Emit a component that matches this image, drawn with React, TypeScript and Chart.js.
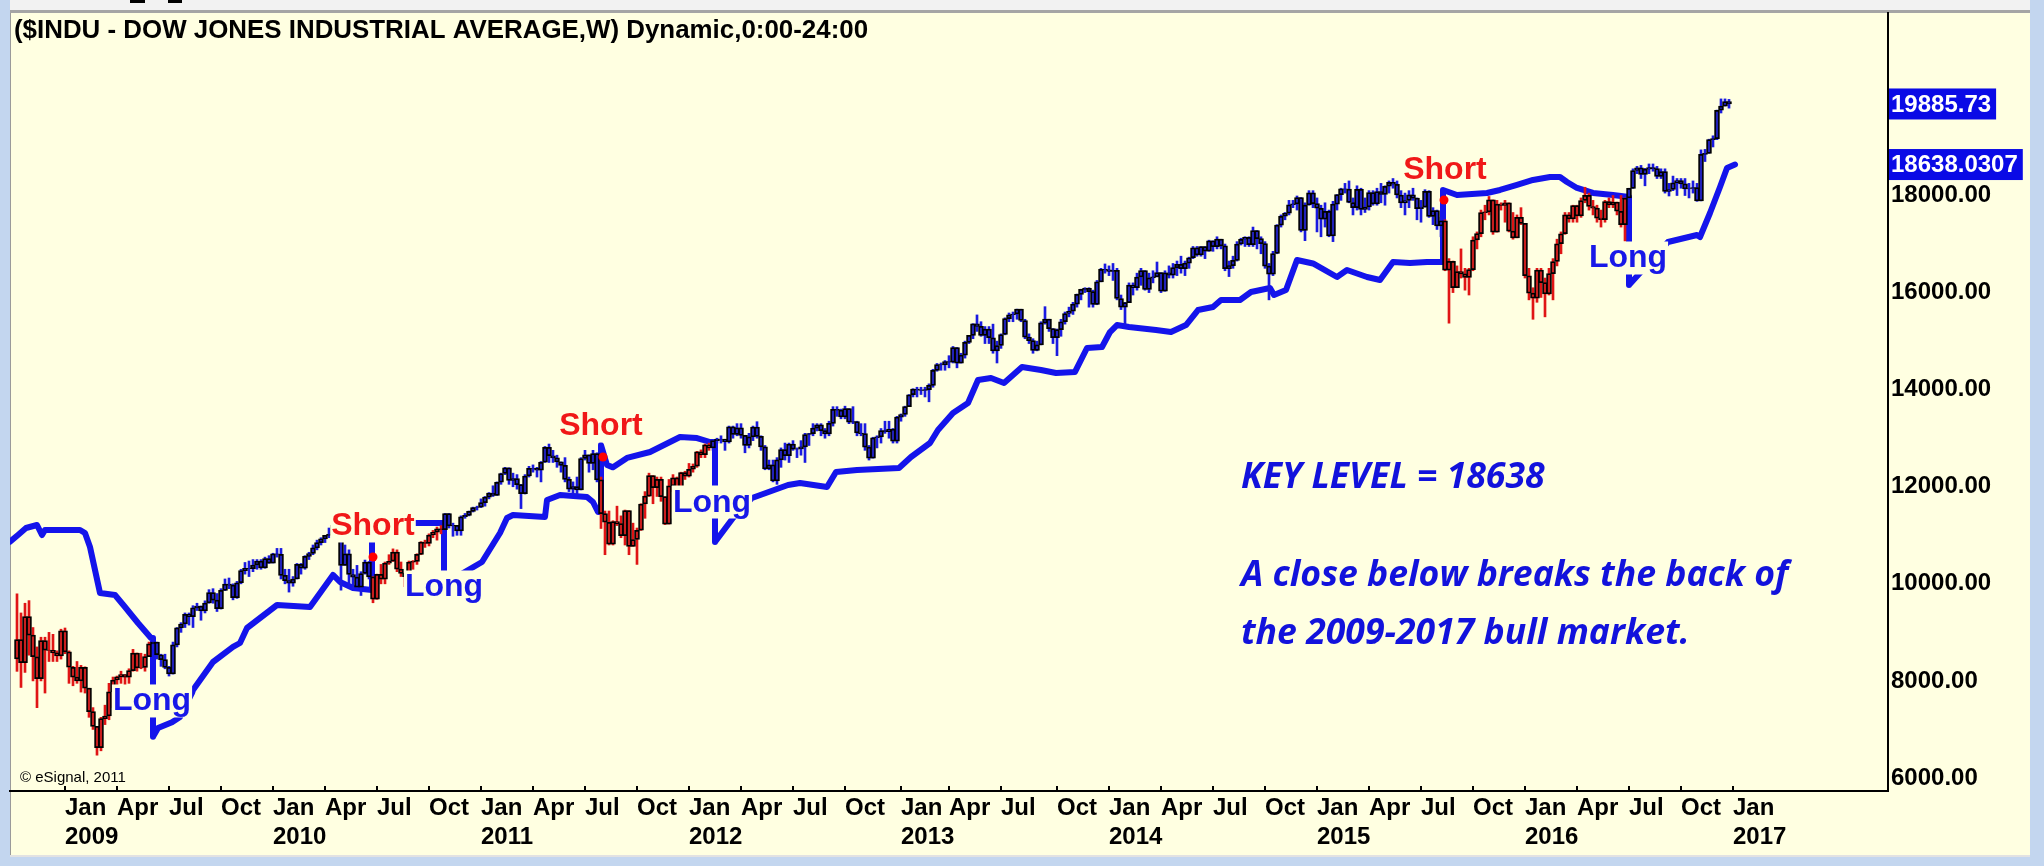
import React, { useEffect, useRef } from "react";
import { Chart, registerables } from "chart.js";

Chart.register(...registerables);

// ---------- DATA (weekly bars, first bar = week ending Fri 17 Oct 2008) ----------
const FIRST_OPEN = 8451;

const close2008 = [8852, 8378, 9325, 8943, 8497, 8046, 8829, 8635, 8629, 8579, 8515];
const high2008 = [9794, 9400, 9600, 9654, 9100, 8700, 8900, 8900, 9000, 8960, 8620];
const low2008 = [8197, 7865, 8175, 8530, 8000, 7449, 8000, 7750, 8400, 8400, 8400];

const close2009 = [9034, 8599, 8281, 8077, 8000, 8280, 7850, 7366, 7063, 6627, 7224, 7278, 7776, 8018, 8084, 8131, 8076, 8212, 8575, 8268, 8277, 8500, 8764, 8799, 8539, 8438, 8280, 8146, 8743, 9093, 9172, 9370, 9321, 9505, 9544, 9441, 9605, 9820, 9665, 9488, 9865, 9996, 9972, 9713, 10023, 10271, 10319, 10310, 10388, 10471, 10329, 10520, 10428];
const high2009 = [9065, 9090, 8620, 8300, 8400, 8320, 8290, 7850, 7450, 7050, 7250, 7500, 7950, 8080, 8100, 8200, 8100, 8250, 8650, 8550, 8570, 8550, 8800, 8880, 8800, 8550, 8550, 8300, 8800, 9100, 9200, 9400, 9400, 9550, 9600, 9500, 9650, 9880, 9900, 9800, 9900, 10100, 10120, 10000, 10050, 10300, 10440, 10470, 10500, 10500, 10500, 10550, 10580];
const low2009 = [8450, 8560, 7950, 7900, 7950, 7770, 7750, 7250, 7000, 6470, 6560, 7100, 7200, 7450, 7790, 7950, 7750, 7950, 8200, 8200, 8250, 8200, 8500, 8650, 8450, 8300, 8250, 8100, 8140, 8700, 9000, 9100, 9150, 9100, 9450, 9250, 9400, 9600, 9600, 9430, 9480, 9860, 9900, 9670, 9700, 10000, 10200, 10150, 10250, 10300, 10300, 10320, 10420];

const close2010 = [10618, 10610, 10173, 10067, 10012, 10099, 10403, 10325, 10566, 10625, 10742, 10850, 10927, 10997, 11019, 11204, 11009, 10380, 10620, 10193, 10137, 9931, 10212, 10450, 10144, 9686, 10198, 10098, 10425, 10466, 10654, 10303, 10214, 10150, 10448, 10462, 10608, 10860, 10830, 11006, 11063, 11133, 11118, 11445, 11193, 11204, 11092, 11382, 11410, 11492, 11573, 11578];
const high2010 = [10630, 10730, 10730, 10300, 10300, 10150, 10420, 10420, 10580, 10650, 10800, 10900, 10950, 11000, 11150, 11210, 11260, 11200, 10800, 10700, 10300, 10380, 10250, 10490, 10460, 10150, 10200, 10400, 10450, 10600, 10720, 10700, 10450, 10250, 10470, 10480, 10620, 10870, 10900, 11030, 11100, 11170, 11200, 11450, 11450, 11250, 11200, 11400, 11450, 11500, 11580, 11600];
const low2010 = [10430, 10550, 10100, 10000, 9830, 9950, 10100, 10200, 10300, 10500, 10600, 10700, 10800, 10850, 10950, 10980, 11000, 9870, 10380, 9920, 9900, 9900, 9760, 10200, 10100, 9610, 9680, 10000, 10000, 10400, 10460, 10250, 10150, 9940, 10000, 10300, 10400, 10600, 10750, 10780, 10950, 10900, 11030, 11100, 11150, 10980, 11000, 11000, 11350, 11400, 11480, 11520];

const close2011 = [11674, 11787, 11871, 11823, 12092, 12273, 12391, 12130, 12170, 12044, 11859, 12221, 12377, 12380, 12342, 12505, 12811, 12638, 12595, 12512, 12441, 12151, 11952, 12004, 11934, 12582, 12657, 12480, 12681, 12143, 11445, 11269, 10818, 11285, 11240, 10993, 11509, 10771, 10913, 11103, 11644, 11808, 12231, 11983, 12153, 11796, 11231, 12019, 12184, 11866, 12294, 12218];
const high2011 = [11750, 11800, 11880, 12020, 12100, 12280, 12400, 12390, 12280, 12250, 12050, 12250, 12420, 12450, 12400, 12520, 12830, 12880, 12750, 12650, 12500, 12600, 12200, 12100, 12200, 12600, 12750, 12650, 12750, 12700, 12200, 11500, 11500, 11300, 11600, 11400, 11520, 11500, 11250, 11150, 11650, 11900, 12280, 12200, 12200, 12200, 11750, 12150, 12250, 12200, 12300, 12320];
const low2011 = [11570, 11600, 11750, 11800, 11820, 12050, 12250, 12050, 12000, 11950, 11550, 11850, 12200, 12300, 12200, 12100, 12500, 12500, 12500, 12400, 12300, 12100, 11900, 11850, 11850, 11940, 12550, 12300, 12350, 12100, 11140, 10600, 10800, 10800, 11200, 10950, 10800, 10600, 10850, 10400, 11100, 11350, 11800, 11650, 11800, 11700, 11220, 11250, 11900, 11800, 11800, 12150];

const close2012 = [12360, 12422, 12720, 12660, 12862, 12801, 12950, 12983, 12978, 12922, 13233, 13080, 13212, 13060, 12850, 13029, 13228, 13038, 12821, 12369, 12454, 12119, 12554, 12767, 12640, 12880, 12772, 12777, 12823, 13076, 13096, 13207, 13275, 13157, 13090, 13306, 13593, 13579, 13437, 13610, 13329, 13344, 13107, 13093, 12815, 12588, 13010, 13026, 13155, 13135, 13190, 12938];
const high2012 = [12480, 12470, 12730, 12760, 12880, 12900, 12960, 13000, 13050, 12980, 13250, 13250, 13300, 13300, 13050, 13100, 13250, 13340, 13050, 12850, 12550, 12550, 12600, 12800, 12900, 12900, 12950, 12800, 12950, 13100, 13100, 13300, 13300, 13300, 13200, 13350, 13650, 13650, 13600, 13660, 13600, 13650, 13350, 13300, 13300, 12850, 13020, 13050, 13200, 13350, 13350, 13200];
const low2012 = [12200, 12300, 12400, 12600, 12600, 12750, 12750, 12900, 12900, 12750, 12900, 13000, 13050, 13000, 12700, 12800, 12950, 13000, 12750, 12350, 12350, 12100, 12050, 12400, 12550, 12500, 12750, 12600, 12650, 12500, 12850, 13050, 13150, 13050, 13000, 13050, 13250, 13450, 13400, 13400, 13300, 13300, 13050, 13050, 12750, 12550, 12600, 12800, 12900, 13100, 13000, 12900];

const close2013 = [13435, 13488, 13650, 13896, 14010, 13993, 13982, 14001, 14090, 14397, 14515, 14512, 14579, 14565, 14865, 14547, 14713, 14974, 15118, 15354, 15303, 15116, 15248, 15070, 14800, 14910, 15136, 15464, 15544, 15559, 15658, 15425, 15081, 15010, 14810, 14922, 15376, 15452, 15258, 15073, 15238, 15400, 15570, 15616, 15762, 15962, 16065, 16086, 16020, 15755, 16221, 16479];
const high2013 = [13450, 13500, 13660, 13900, 14020, 14050, 14050, 14050, 14120, 14420, 14540, 14550, 14600, 14700, 14890, 14870, 14750, 15000, 15120, 15360, 15540, 15400, 15300, 15300, 15350, 15000, 15150, 15480, 15580, 15600, 15660, 15650, 15450, 15150, 15050, 15000, 15400, 15710, 15450, 15250, 15250, 15450, 15600, 15700, 15800, 15970, 16070, 16100, 16100, 16050, 16250, 16500];
const low2013 = [12900, 13350, 13450, 13650, 13850, 13850, 13900, 13850, 13750, 14050, 14380, 14400, 14400, 14450, 14550, 14450, 14550, 14650, 14950, 15050, 15200, 15100, 14950, 14950, 14750, 14550, 14850, 15130, 15400, 15400, 15450, 15400, 15050, 14950, 14750, 14800, 14950, 15350, 15200, 14950, 14700, 15100, 15350, 15500, 15550, 15700, 15850, 16000, 15700, 15700, 15750, 16250];

const close2014 = [16470, 16437, 16459, 15879, 15699, 15794, 16154, 16103, 16322, 16453, 16065, 16303, 16323, 16412, 16027, 16409, 16361, 16513, 16583, 16492, 16606, 16717, 16924, 16776, 16947, 16851, 17068, 16944, 17100, 16961, 16493, 16554, 16663, 17001, 17098, 17138, 16988, 17280, 17113, 17010, 16544, 16380, 16805, 17391, 17573, 17635, 17810, 17828, 17959, 17281, 17805, 18053];
const high2014 = [16590, 16550, 16600, 16500, 15950, 15800, 16200, 16200, 16400, 16500, 16450, 16400, 16450, 16630, 16400, 16450, 16550, 16600, 16650, 16750, 16650, 16730, 16950, 16950, 16950, 16950, 17080, 17050, 17150, 17100, 17000, 16650, 16750, 17050, 17120, 17150, 17150, 17350, 17250, 17150, 17050, 16600, 16850, 17400, 17600, 17650, 17900, 17900, 17990, 17900, 17850, 18100];
const low2014 = [16400, 16350, 16250, 15850, 15650, 15340, 15800, 15950, 16050, 16150, 16050, 16000, 16200, 16350, 16000, 16100, 16300, 16300, 16350, 16400, 16350, 16500, 16700, 16750, 16750, 16700, 16850, 16850, 16900, 16900, 16450, 16330, 16500, 16650, 16980, 16950, 16950, 16950, 16900, 16800, 16500, 15850, 16350, 16800, 17350, 17500, 17600, 17750, 17700, 17250, 17070, 17800];

const close2015 = [17833, 17737, 17512, 17673, 17165, 17824, 18019, 18140, 18133, 17856, 17749, 18128, 17712, 17763, 18058, 17826, 18080, 18024, 18191, 18272, 18232, 18010, 17849, 17898, 18015, 17947, 17730, 17760, 18086, 17568, 17690, 17373, 17477, 16460, 16643, 16102, 16433, 16385, 16315, 16472, 17084, 17216, 17647, 17663, 17910, 17245, 17824, 17798, 17848, 17265, 17128, 17553, 17425];
const high2015 = [18100, 17950, 17800, 17850, 17700, 17880, 18020, 18150, 18250, 18300, 17950, 18200, 18150, 17950, 18100, 18100, 18150, 18250, 18200, 18300, 18350, 18300, 18100, 18050, 18100, 18150, 17950, 17900, 18120, 18100, 17750, 17700, 17550, 17500, 16700, 16650, 16550, 16900, 16500, 16500, 17150, 17250, 17700, 17800, 17980, 17900, 17900, 17850, 17900, 17850, 17650, 17600, 17750];
const low2015 = [17750, 17250, 17150, 17350, 17150, 17050, 17700, 17900, 18050, 17850, 17600, 17700, 17600, 17650, 17700, 17800, 17800, 17850, 17800, 18050, 18150, 17950, 17750, 17600, 17750, 17900, 17500, 17450, 17800, 17550, 17400, 17300, 17150, 16450, 15370, 16000, 16100, 16300, 16050, 15950, 16450, 16900, 17150, 17500, 17600, 17200, 17250, 17700, 17450, 17250, 17100, 17150, 17400];

const close2016 = [16347, 15988, 15883, 16466, 16205, 15974, 16392, 16640, 17007, 17213, 17602, 17516, 17793, 17577, 17897, 18004, 17774, 17741, 17535, 17501, 17873, 17807, 17865, 17675, 17400, 17949, 18147, 18516, 18571, 18432, 18543, 18576, 18553, 18395, 18492, 18085, 18124, 18262, 18308, 18240, 18138, 18145, 18161, 17888, 18847, 18868, 19152, 19171, 19757, 19843, 19934, 19885.73];
const high2016 = [17400, 16500, 16100, 16500, 16500, 16300, 16500, 16700, 17100, 17250, 17650, 17650, 17800, 17800, 17950, 18170, 18050, 17900, 17800, 17700, 17900, 17950, 18000, 17850, 18000, 17950, 18150, 18550, 18600, 18620, 18560, 18650, 18650, 18600, 18550, 18550, 18250, 18400, 18350, 18350, 18350, 18250, 18300, 18250, 18940, 18950, 19160, 19230, 19760, 19990, 19990, 19980];
const low2016 = [16300, 15850, 15450, 15800, 15900, 15500, 15950, 15850, 16550, 16800, 17200, 17450, 17450, 17450, 17550, 17850, 17700, 17600, 17450, 17350, 17450, 17750, 17750, 17600, 17350, 17060, 17800, 18150, 18450, 18350, 18200, 18450, 18500, 18350, 18350, 18050, 17990, 18100, 18000, 18150, 18000, 17950, 18050, 17880, 17900, 18700, 18900, 19000, 19150, 19700, 19850, 19800];

// Short (sell) phases, in week indexes (inclusive)
const shortPhases = [[0, 33], [89, 106], [146, 173], [357, 402]];

// Dynamic stop line (week index, level)
const stopWeeks = [
  -1.75, 0.25, 2.25, 5, 6.25, 7, 15.75, 17, 18.25, 19.5, 20.75, 24.5, 27, 30.25, 33.5, 34,
  34, 35.25, 38.75, 40.75, 43.75, 44, 49, 54, 55.75, 57.5, 65, 73.25, 79, 80.75, 84, 88.75,
  88.75, 106.75,
  106.75, 110, 116.25, 120.75, 122.5, 124, 132, 132.5, 135.75, 142.5, 144, 145.25, 146,
  146, 147.5, 149, 152.5, 158.25, 165.75, 170, 173.25, 174.5,
  174.5, 179, 183.75, 192.75, 195.75, 202.5, 204.75, 210, 220.5, 223.5, 228.25, 230.25, 234, 237.75,
  240.25, 243.5, 246.75, 251.25, 256, 259.75, 264.5, 267.5, 271.25, 273.25, 275, 278, 284.75, 288.5,
  292.25, 295.25, 299, 301, 305.75, 308.5, 313.25, 314.25, 317.25, 320, 324, 330, 332.5, 337.5,
  340.75, 344, 348.25, 352.5, 356.5,
  356.5, 360, 367.5, 370.75, 375, 379, 383.25, 385.75, 387.5, 390, 394, 399, 403,
  403, 412.75, 420, 420.75, 423.25, 425.75, 427.5, 429.5,
];
const stopLevels = [
  10868, 11006, 11150, 11212, 11006, 11110, 11110, 11047, 10759, 10285, 9811, 9770, 9523, 9193, 8884, 8884,
  6850, 7030, 7150, 7257, 7751, 7813, 8390, 8700, 8781, 9090, 9564, 9523, 10182, 10038, 9914, 9873,
  11253, 11253,
  9950, 10150, 10450, 11047, 11356, 11418, 11377, 11727, 11830, 11789, 11686, 11480, 11480,
  12860, 12448, 12400, 12593, 12716, 13025, 13004, 12922, 12922,
  10862, 11356, 11768, 12036, 12077, 11995, 12304, 12345, 12386, 12613, 12901, 13169, 13520, 13726,
  14200, 14241, 14138, 14468, 14406, 14344, 14365, 14859, 14879, 15188, 15332, 15291, 15229, 15188,
  15332, 15641, 15703, 15847, 15847, 16012, 16094, 15950, 16053, 16671, 16600, 16321, 16465, 16321,
  16259, 16630, 16609, 16630, 16630,
  18114, 18010, 18052, 18114, 18217, 18320, 18382, 18382, 18279, 18155, 18052, 18010, 17970,
  16156, 17042, 17186, 17145, 17640, 18176, 18567, 18638.0307,
];

// Red short-entry dots
const dotWeeks = [89, 146.5, 356.75];
const dotLevels = [10553, 12613, 17908];

// Signal labels
const signalText = ["Long", "Short", "Long", "Short", "Long", "Short", "Long"];
const signalWeeks = [33.75, 89, 106.75, 146, 173.75, 357, 402.75];
const signalLevels = [7628, 11233, 9976, 13293, 11727, 18567, 16754];

// Note text
const noteLines = ["KEY LEVEL = 18638", "A close below breaks the back of", "the 2009-2017 bull market."];
const noteWeek = 306;
const noteLevels = [12222, 10223, 9008];

const yTicks = [6000, 8000, 10000, 12000, 14000, 16000, 18000];
const quarterNames = ["Jan", "Apr", "Jul", "Oct"];
const TITLE = "($INDU - DOW JONES INDUSTRIAL AVERAGE,W) Dynamic,0:00-24:00";

// ---------- derived ----------
const closes = [...close2008, ...close2009, ...close2010, ...close2011, ...close2012, ...close2013, ...close2014, ...close2015, ...close2016];
const highs = [...high2008, ...high2009, ...high2010, ...high2011, ...high2012, ...high2013, ...high2014, ...high2015, ...high2016];
const lows = [...low2008, ...low2009, ...low2010, ...low2011, ...low2012, ...low2013, ...low2014, ...low2015, ...low2016];
const opens = closes.map((_, i) => (i === 0 ? FIRST_OPEN : closes[i - 1]));
const isShort = (i: number) => shortPhases.some(([a, b]) => i >= a && i <= b);

const X_MIN = -1.75;
const X_MAX = 467.75;
const Y_MIN = 5732;
const Y_MAX = 21760;
const TICK_END = closes.length + 1;

const weekMonday = (i: number) => new Date(Date.UTC(2008, 9, 17 + 7 * i - 4));
const xTickLabels = new Map<number, string[]>();
{
  let prev = weekMonday(-1).getUTCMonth();
  for (let i = 0; i <= TICK_END; i++) {
    const d = weekMonday(i);
    const m = d.getUTCMonth();
    if (m !== prev && m % 3 === 0) {
      xTickLabels.set(i, m === 0 ? ["Jan", String(d.getUTCFullYear())] : [quarterNames[m / 3]]);
    }
    prev = m;
  }
}

const PANEL_BG = "#FFFFE1";
const STOP_BLUE = "#1414EB";
const FONT = '"Liberation Sans", Arial, sans-serif';

const overlayPlugin = {
  id: "overlay",
  afterDraw(chart: any) {
    const { ctx, chartArea } = chart;
    const xs = chart.scales.x;
    const ys = chart.scales.y;
    ctx.save();

    // x tick marks (inside)
    ctx.strokeStyle = "#000";
    ctx.lineWidth = 2;
    xTickLabels.forEach((_, v) => {
      const px = Math.round(xs.getPixelForValue(v));
      ctx.beginPath();
      ctx.moveTo(px, chartArea.bottom);
      ctx.lineTo(px, chartArea.bottom - 5);
      ctx.stroke();
    });

    // title
    ctx.fillStyle = "#000";
    ctx.textAlign = "left";
    ctx.textBaseline = "alphabetic";
    ctx.font = `bold 25.9px ${FONT}`;
    ctx.fillText(TITLE, 14, 38);

    // copyright
    ctx.font = `15px ${FONT}`;
    ctx.fillText("\u00A9 eSignal, 2011", 20, 782);

    // signal labels with background boxes
    ctx.font = `bold 32px ${FONT}`;
    signalText.forEach((t, k) => {
      const cx = xs.getPixelForValue(signalWeeks[k]);
      const cy = ys.getPixelForValue(signalLevels[k]);
      const w = ctx.measureText(t).width;
      const base = cy + 11.5;
      ctx.fillStyle = PANEL_BG;
      ctx.fillRect(cx - w / 2 - 1, base - 26, w + 2, 33);
      ctx.fillStyle = t === "Short" ? "#F01818" : "#1818E8";
      ctx.fillText(t, cx - w / 2, base);
    });

    // note text
    ctx.font = `italic bold 35.6px "Open Sans", Lato, sans-serif`;
    ctx.fillStyle = "#1212DC";
    const nx = xs.getPixelForValue(noteWeek);
    noteLines.forEach((t, k) => {
      const cy = ys.getPixelForValue(noteLevels[k]);
      ctx.fillText(t, nx, cy + 12.5);
    });

    // highlighted last values on axis
    const tag = (value: number, text: string) => {
      const py = ys.getPixelForValue(value);
      ctx.font = `bold 24px ${FONT}`;
      const w = ctx.measureText(text).width;
      ctx.fillStyle = "#0A0AE6";
      ctx.fillRect(chartArea.right + 1, py - 15.5, w + 7, 31);
      ctx.fillStyle = "#FFFFFF";
      ctx.textBaseline = "middle";
      ctx.fillText(text, chartArea.right + 3, py + 1);
      ctx.textBaseline = "alphabetic";
    };
    const lastClose = closes[closes.length - 1];
    const lastStop = stopLevels[stopLevels.length - 1];
    tag(lastClose, lastClose.toFixed(2));
    tag(lastStop, lastStop.toFixed(4));

    ctx.restore();
  },
};

export default function App() {
  const ref = useRef<HTMLCanvasElement>(null);

  useEffect(() => {
    if (!ref.current) return;
    const wickData = closes.map((c, i) => ({
      x: i,
      y: [Math.min(lows[i], opens[i], c), Math.max(highs[i], opens[i], c)],
    }));
    const bodyData = closes.map((c, i) => ({ x: i, y: [Math.min(opens[i], c), Math.max(opens[i], c)] }));
    const wickColors = closes.map((_, i) => (isShort(i) ? "#E01515" : "#1A1AE0"));
    const bodyColors = closes.map((_, i) => (isShort(i) ? "#C81E1E" : "#2020B8"));

    const chart = new Chart(ref.current, {
      type: "bar",
      data: {
        datasets: [
          {
            type: "line",
            data: stopWeeks.map((w, k) => ({ x: w, y: stopLevels[k] })),
            borderColor: STOP_BLUE,
            borderWidth: 6,
            pointRadius: 0,
            tension: 0,
            borderJoinStyle: "round",
            borderCapStyle: "round",
            order: 3,
          } as any,
          {
            type: "bar",
            data: wickData,
            backgroundColor: wickColors,
            borderWidth: 0,
            barThickness: 2,
            grouped: false,
            order: 2,
          } as any,
          {
            type: "bar",
            data: bodyData,
            backgroundColor: bodyColors,
            borderColor: "#000",
            borderWidth: 1.75,
            borderSkipped: false,
            barThickness: 5,
            grouped: false,
            order: 1,
          } as any,
          {
            type: "scatter",
            data: dotWeeks.map((w, k) => ({ x: w, y: dotLevels[k] })),
            backgroundColor: "#FF0000",
            borderWidth: 0,
            pointRadius: 4.5,
            order: 0,
          } as any,
        ],
      },
      options: {
        responsive: false,
        maintainAspectRatio: false,
        animation: false,
        events: [],
        layout: { padding: { left: 10, top: 13, right: 0, bottom: 0 } },
        plugins: { legend: { display: false }, tooltip: { enabled: false } },
        scales: {
          x: {
            type: "linear",
            min: X_MIN,
            max: X_MAX,
            bounds: "data",
            offset: false,
            grid: { display: false, drawTicks: false },
            border: { display: true, color: "#000", width: 2 },
            ticks: {
              autoSkip: false,
              maxRotation: 0,
              minRotation: 0,
              align: "start",
              padding: 3,
              color: "#000",
              font: { family: FONT, size: 24, weight: "bold", lineHeight: 1.2 },
              callback: (v: any) => xTickLabels.get(Number(v)) ?? "",
            },
            afterBuildTicks: (s: any) => {
              s.ticks = Array.from(xTickLabels.keys()).map((v) => ({ value: v }));
            },
            afterFit: (s: any) => {
              s.height = 75;
              s.paddingLeft = 0;
              s.paddingRight = 0;
            },
          },
          y: {
            type: "linear",
            position: "right",
            min: Y_MIN,
            max: Y_MAX,
            bounds: "data",
            grid: { display: false, drawTicks: false },
            border: { display: true, color: "#000", width: 2 },
            ticks: {
              padding: 3,
              color: "#000",
              font: { family: FONT, size: 24, weight: "bold" },
              callback: (v: any) => Number(v).toFixed(2),
            },
            afterBuildTicks: (s: any) => {
              s.ticks = yTicks.map((v) => ({ value: v }));
            },
            afterFit: (s: any) => {
              s.width = 156;
              s.paddingTop = 0;
              s.paddingBottom = 0;
            },
          },
        },
      } as any,
      plugins: [overlayPlugin],
    });
    return () => chart.destroy();
  }, []);

  return (
    <div style={{ position: "absolute", left: 0, top: 0, width: 2044, height: 866, background: "#C3D6EF", overflow: "hidden" }}>
      <div style={{ position: "absolute", left: 10, top: 0, width: 2020, height: 10, background: "#F2F2F2" }} />
      <div style={{ position: "absolute", left: 130, top: 0, width: 15, height: 3, background: "#000" }} />
      <div style={{ position: "absolute", left: 168, top: 0, width: 14, height: 3, background: "#000" }} />
      <div style={{ position: "absolute", left: 10, top: 10, width: 2020, height: 3, background: "#A5A5A5" }} />
      <div style={{ position: "absolute", left: 10, top: 13, width: 2020, height: 842, background: PANEL_BG, borderLeft: "1px solid #9A9A9A", boxSizing: "border-box" }} />
      <div style={{ position: "absolute", left: 10, top: 855, width: 2020, height: 2, background: "#E2E2E2" }} />
      <canvas ref={ref} width={2044} height={866} style={{ position: "absolute", left: 0, top: 0, width: 2044, height: 866 }} />
    </div>
  );
}
